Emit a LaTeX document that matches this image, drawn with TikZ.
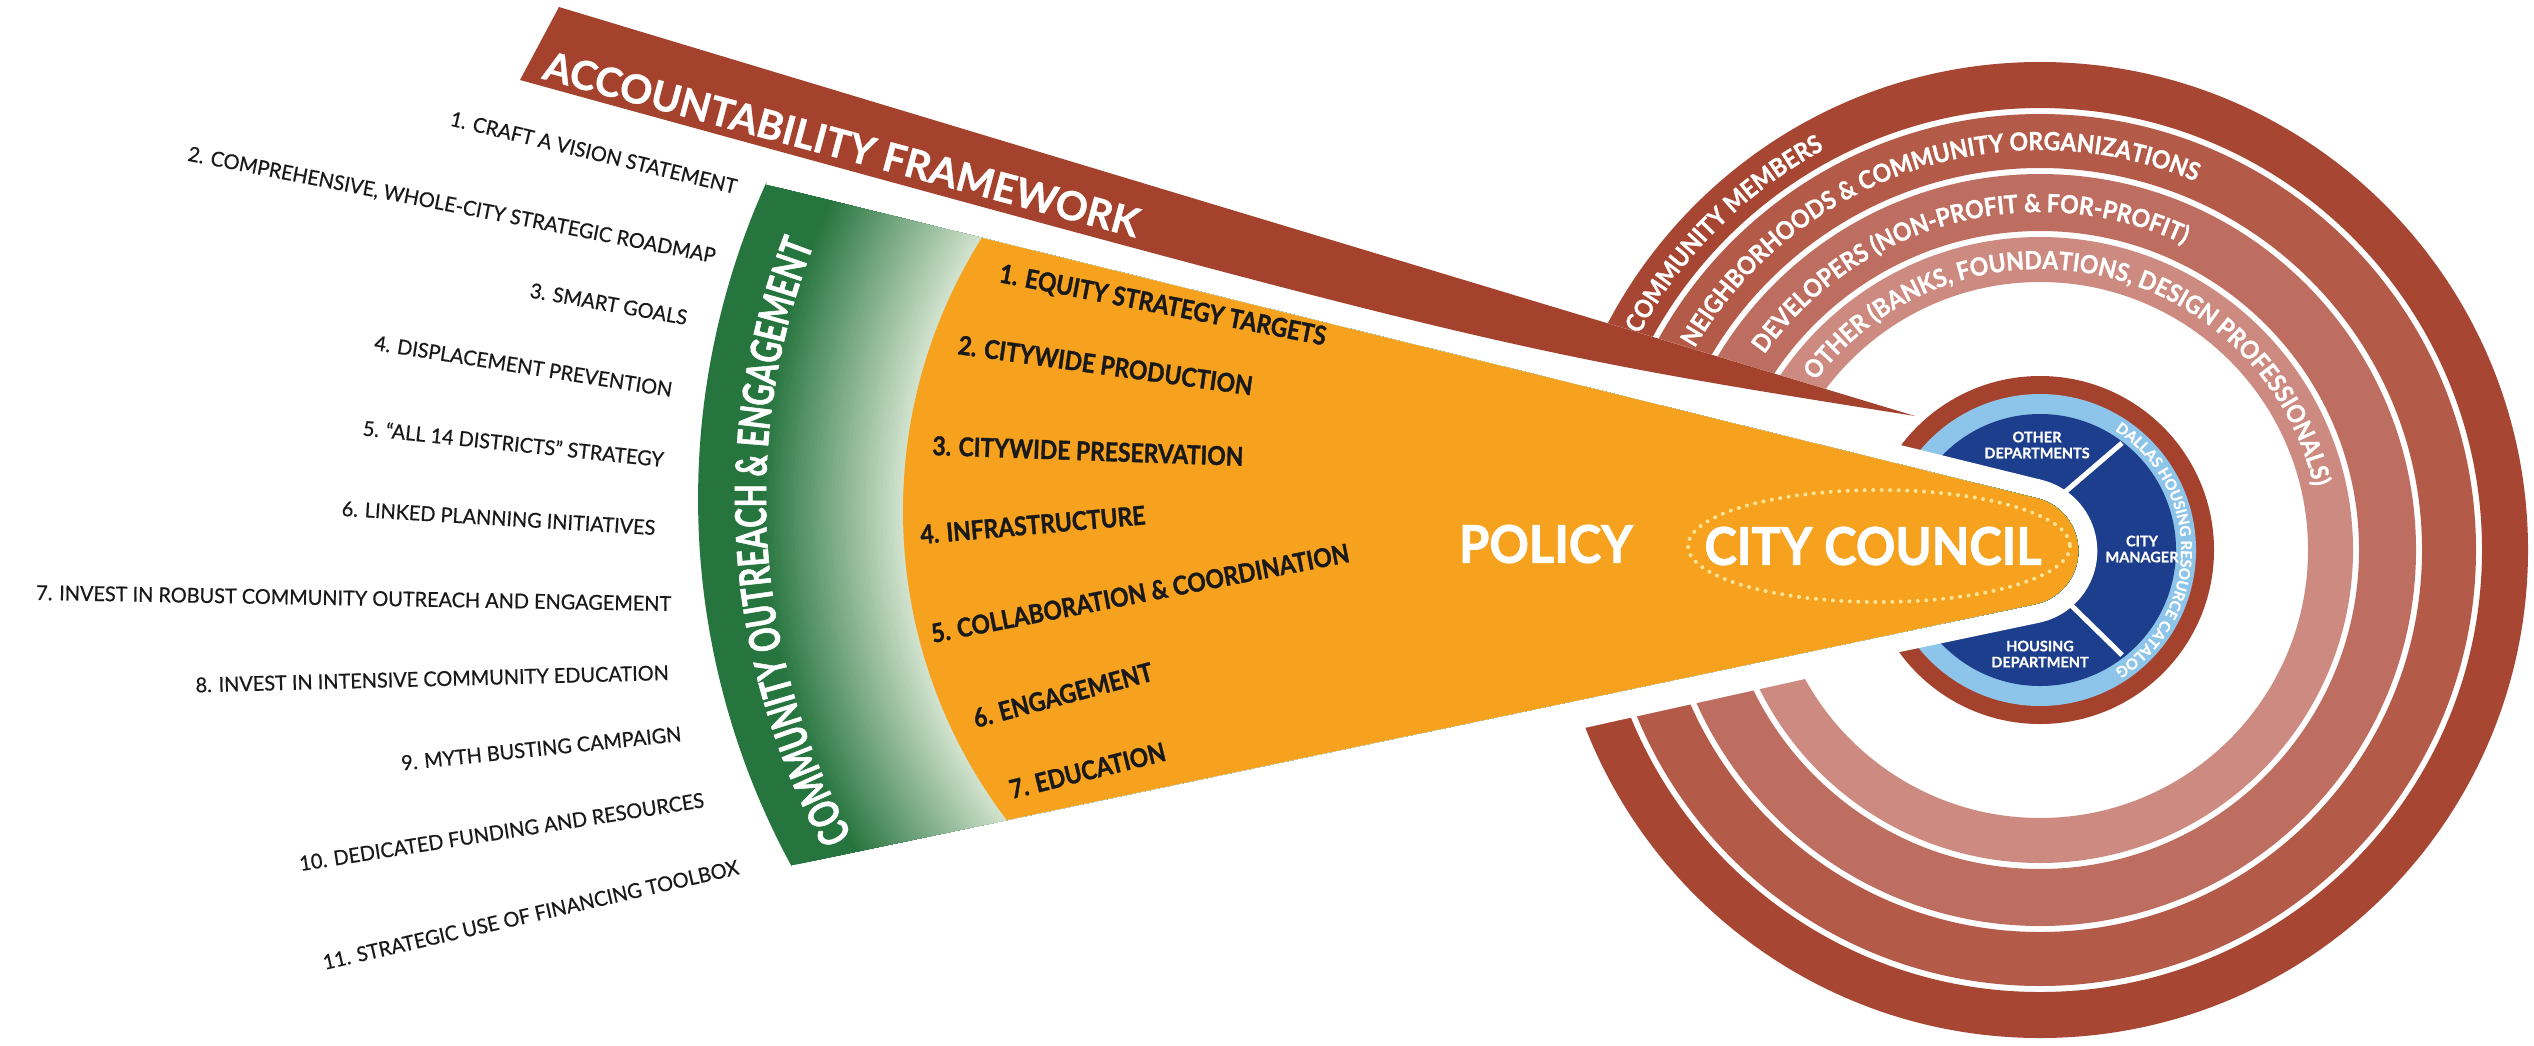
\documentclass[tikz,border=0pt]{standalone}
\usepackage{fontspec}
\setmainfont{Lato}[BoldFeatures={FakeBold=0.8}]
\newfontfamily\condfont{Lato}[FakeStretch=0.88, BoldFeatures={FakeBold=1.2}]
\newfontfamily\ringfont{Lato}[FakeStretch=0.92, BoldFeatures={FakeBold=1.0}]
\newfontfamily\bigfont{Lato}[FakeStretch=0.94, BoldFeatures={FakeBold=1.5}]
\newfontfamily\grnfont{Lato}[FakeStretch=0.70, BoldFeatures={FakeBold=1.2}]
\newfontfamily\listfont{Lato}[FakeStretch=0.97, FakeBold=0.5]
\usetikzlibrary{decorations.text}
\definecolor{barred}{RGB}{164,66,46}
\definecolor{ringA}{RGB}{167,70,50}
\definecolor{ringB}{RGB}{179,90,73}
\definecolor{ringC}{RGB}{190,110,97}
\definecolor{ringD}{RGB}{204,138,128}
\definecolor{orangeF}{RGB}{246,162,30}
\definecolor{greenD}{RGB}{38,116,62}
\definecolor{greenL}{RGB}{212,228,208}
\definecolor{navyF}{RGB}{29,62,140}
\definecolor{lblue}{RGB}{140,196,234}
\definecolor{dotY}{RGB}{253,228,150}
\definecolor{txtK}{RGB}{25,25,25}
\newcommand\ringfnt{\ringfont\bfseries\fontsize{25}{25}\selectfont}
\newcommand\dhfnt{\bfseries\fontsize{15}{15}\selectfont}
\newcommand\grnfnt{\grnfont\bfseries\fontsize{43}{43}\selectfont}
\def\wedgepath{(766,184.6) -- (2037,498.3) -- plot[domain=-76.1:78.1, samples=40] ({2024+54.3*cos(\x)},{551+54.3*sin(\x)}) -- (791,865.4) -- plot[domain=151.4:204.4, samples=50] ({1466+768*cos(\x)},{499+768*sin(\x)}) -- cycle}
\begin{document}
\begin{tikzpicture}[x=1pt,y=-1pt,
  listitem/.style={font=\listfont\fontsize{20.5}{21}\selectfont, text=txtK, inner sep=0pt, anchor=base east},
  oitem/.style={font=\condfont\bfseries\fontsize{26}{26}\selectfont, text=txtK, inner sep=0pt, anchor=base west},
  bigw/.style={font=\bigfont\bfseries\fontsize{52}{52}\selectfont, text=white, inner sep=0pt},
  navytxt/.style={font=\bfseries\fontsize{14.5}{16}\selectfont, text=white, align=center, inner sep=0pt},
  ringtext/.style={decorate, decoration={text along path, text align=center, text color=white, text={#1}}}
]
\useasboundingbox (0,0) rectangle (2534,1045);
\fill[white] (0,0) rectangle (2534,1045);
% stakeholder rings
\coordinate (C) at (2040,550);
\fill[ringA, even odd rule] (C) circle (488) (C) circle (442);
\fill[ringB, even odd rule] (C) circle (436) (C) circle (382);
\fill[ringC, even odd rule] (C) circle (376) (C) circle (319);
\fill[ringD, even odd rule] (C) circle (313) (C) circle (268);
% cut of the rings on the left
\fill[white] (1400,260.6) -- (2040,453.7) -- (2040,626.8) -- (1400,768.9) -- cycle;
% accountability bar
\fill[barred] (559,7) -- (1915,416) .. controls (1501,350) .. (520,80) -- cycle;
% inner circle
\fill[barred] (C) circle (174);
\fill[lblue] (C) circle (156);
\fill[navyF] (C) circle (136);
\draw[white, line width=5] (2030,522) -- (2122,443);
\draw[white, line width=5] (2030,565) -- (2122,655);
% wedge
\draw[white, line width=38] \wedgepath;
\begin{scope}
  \clip \wedgepath;
  \foreach \i in {0,...,60} {
    \pgfmathsetmacro\gT{\i/60}
    \pgfmathsetmacro\gX{1466-51*\gT}
    \pgfmathsetmacro\gY{499+12*\gT}
    \pgfmathsetmacro\gR{768-256*\gT}
    \pgfmathsetmacro\gP{\gT<0.3 ? 100 : 100*(1-\gT)/0.7}
    \fill[greenD!\gP!greenL] (\gX,\gY) circle (\gR);
  }
  \fill[orangeF] (1415,511) circle (512);
  \fill[orangeF] (1415,-100) rectangle (2200,1200);
\end{scope}
\draw[dotY, line width=4, line cap=round, dash pattern=on 0pt off 8.5pt] (1879,546) ellipse [x radius=191, y radius=56];
% ring texts
\path[ringtext={|\ringfnt|COMMUNITY MEMBERS}] plot[domain=165:285, samples=121] ({2040+455*cos(\x)},{550+455*sin(\x)});
\path[ringtext={|\ringfnt|NEIGHBORHOODS {\&} COMMUNITY ORGANIZATIONS}] plot[domain=171.6:331.6, samples=161] ({2040+400*cos(\x)},{550+400*sin(\x)});
\path[ringtext={|\ringfnt|DEVELOPERS (NON-PROFIT {\&} FOR-PROFIT)}] plot[domain=175.3:335.3, samples=161] ({2040+338*cos(\x)},{550+338*sin(\x)});
\path[ringtext={|\ringfnt|OTHER (BANKS, FOUNDATIONS, DESIGN PROFESSIONALS)}] plot[domain=202:362, samples=161] ({2040+281*cos(\x)},{550+281*sin(\x)});
\path[ringtext={|\dhfnt|DALLAS HOUSING RESOURCE CATALOG}] plot[domain=-80:80, samples=81] ({2040+141*cos(\x)},{550+141*sin(\x)});
% navy texts
\node[navytxt] (od) at (2037,445) {OTHER\\DEPARTMENTS};
\node[navytxt] (cm) at (2142,549) {CITY\\MANAGER};
\node[navytxt] (hd) at (2040,654) {HOUSING\\DEPARTMENT};
% big words
\node[bigw] (policy) at (1546,544) {POLICY};
\node[bigw] (council) at (1873,546) {CITY COUNCIL};
% green band text
\path[ringtext={|\grnfnt|COMMUNITY OUTREACH {\&} ENGAGEMENT}] plot[domain=135.8:216.8, samples=121] ({1466+700*cos(\x)},{499+700*sin(\x)});
% accountability title
\node[font=\bfseries\fontsize{40}{40}\selectfont, text=white, rotate=-15, anchor=base, inner sep=0pt] (acc) at (838,158) {ACCOUNTABILITY FRAMEWORK};
% orange items
\node[oitem, rotate=-11] (o1) at (998,282) {1. EQUITY STRATEGY TARGETS};
\node[oitem, rotate=-8] (o2) at (957,354) {2. CITYWIDE PRODUCTION};
\node[oitem, rotate=-2] (o3) at (932,455) {3. CITYWIDE PRESERVATION};
\node[oitem, rotate=5] (o4) at (921,544) {4. INFRASTRUCTURE};
\node[oitem, rotate=11] (o5) at (933,643) {5. COLLABORATION \& COORDINATION};
\node[oitem, rotate=15] (o6) at (976,728) {6. ENGAGEMENT};
\node[oitem, rotate=14] (o7) at (1012,799) {7. EDUCATION};
% left list
\node[listitem, rotate=-13.5] (l1) at (735,194) {1. CRAFT A VISION STATEMENT};
\node[listitem, rotate=-11] (l2) at (714,263) {2. COMPREHENSIVE, WHOLE-CITY STRATEGIC ROADMAP};
\node[listitem, rotate=-10] (l3) at (686,325) {3. SMART GOALS};
\node[listitem, rotate=-9] (l4) at (671,397) {4. DISPLACEMENT PREVENTION};
\node[listitem, rotate=-6] (l5) at (663,467) {5. “ALL 14 DISTRICTS” STRATEGY};
\node[listitem, rotate=-3.5] (l6) at (655,535) {6. LINKED PLANNING INITIATIVES};
\node[listitem, rotate=-1] (l7) at (671,611) {7. INVEST IN ROBUST COMMUNITY OUTREACH AND ENGAGEMENT};
\node[listitem, rotate=1.5] (l8) at (669,680) {8. INVEST IN INTENSIVE COMMUNITY EDUCATION};
\node[listitem, rotate=6] (l9) at (682,741) {9. MYTH BUSTING CAMPAIGN};
\node[listitem, rotate=9] (l10) at (705,807) {10. DEDICATED FUNDING AND RESOURCES};
\node[listitem, rotate=13] (l11) at (740,874) {11. STRATEGIC USE OF FINANCING TOOLBOX};
\end{tikzpicture}
\end{document}
